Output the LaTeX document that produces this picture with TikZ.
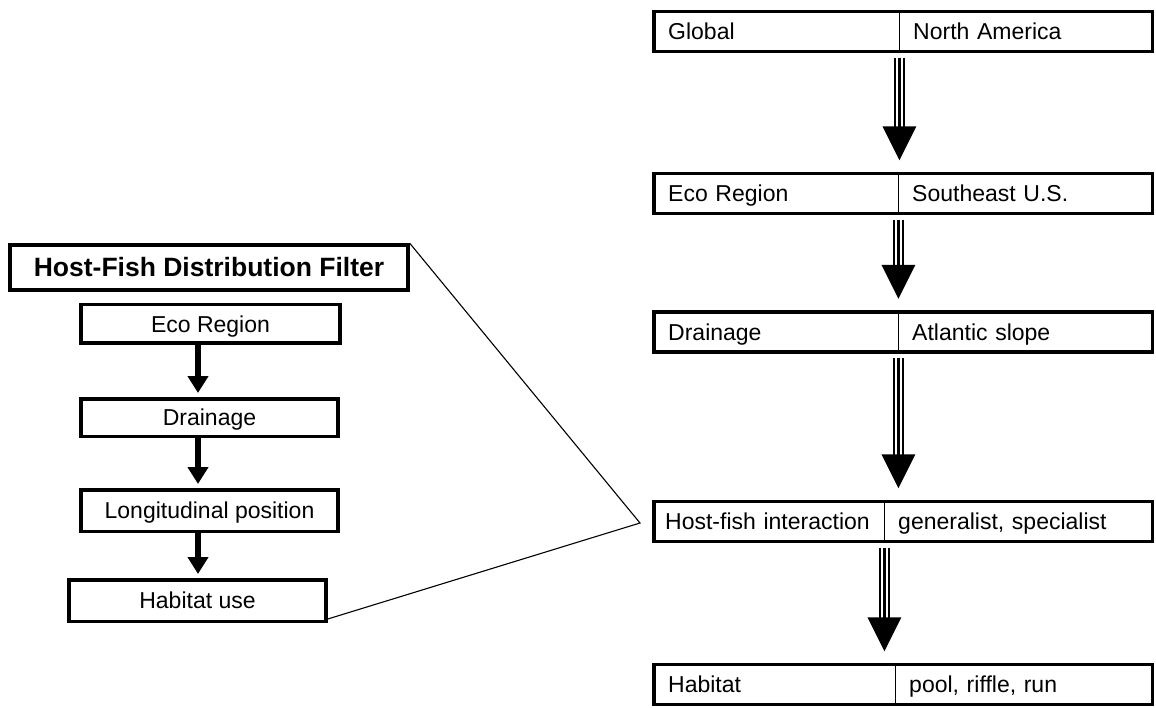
\documentclass[tikz,border=0pt]{standalone}
\usepackage{fontspec}
\setmainfont{Liberation Sans}
\usetikzlibrary{arrows.meta,calc}
\newcommand{\tarrow}[2]{%
  \path (#1.south east) ++(0,6) coordinate (ta);
  \path (#2.north -| #1.south east) ++(0,-13) coordinate (tb);
  \draw[tline] ($(ta)+(-4.6,0)$) -- ($(tb)+(-4.6,-33)$);
  \draw[tline] (ta) -- ($(tb)+(0,-33)$);
  \draw[tline] ($(ta)+(4.6,0)$) -- ($(tb)+(4.6,-33)$);
  \fill ($(tb)+(-17,-34)$) -- ($(tb)+(17,-34)$) -- (tb) -- cycle;
}
\begin{document}
\begin{tikzpicture}[x=1pt,y=-1pt,
  txt/.style={font=\fontsize{23}{27}\selectfont, text height=16.5pt, text depth=0pt},
  cell/.style={txt, anchor=west, minimum height=40pt, inner xsep=14pt, inner ysep=0pt, align=left},
  rowbox/.style={draw, line width=3.5pt},
  divider/.style={line width=1.8pt},
  lbox/.style={draw, line width=3.5pt, txt, inner sep=0pt},
  larrow/.style={line width=6pt, -{Triangle[width=20pt,length=17pt]}, shorten >=4pt},
  tline/.style={line width=2.3pt},
  link/.style={line width=1.1pt}]
\useasboundingbox (0,0) rectangle (1156,708);

% right column
\node[cell, text width=217pt] (r1a) at (654,31.5) {Global};
\node[cell, text width=225pt] (r1b) at (899,31.5) {North America};
\node[cell, text width=216pt] (r2a) at (654,193.5) {Eco Region};
\node[cell, text width=226pt] (r2b) at (898,193.5) {Southeast U.S.};
\node[cell, text width=216pt] (r3a) at (654,332) {Drainage};
\node[cell, text width=226pt] (r3b) at (898,332) {Atlantic slope};
\node[cell, inner xsep=11pt, text width=208pt] (r4a) at (654,521.5) {Host-fish interaction};
\node[cell, text width=240pt] (r4b) at (884,521.5) {generalist, specialist};
\node[cell, text width=213pt] (r5a) at (654,684.5) {Habitat};
\node[cell, text width=229pt] (r5b) at (895,684.5) {pool, riffle, run};

\foreach \r in {r1,r2,r3,r4,r5}{
  \draw[rowbox] (\r a.north west) rectangle (\r b.south east);
  \draw[divider] (\r a.north east) -- (\r a.south east);
}

\tarrow{r1a}{r2a}
\tarrow{r2a}{r3a}
\tarrow{r3a}{r4a}
\tarrow{r4a}{r5a}

% left column
\node[lbox, minimum width=398pt, minimum height=45pt, font=\fontsize{26.5}{30}\selectfont\bfseries, text height=19pt] (title) at (209,267.5) {Host-Fish Distribution Filter};
\node[lbox, minimum width=259pt, minimum height=38.5pt] (eco) at (210.5,324) {Eco Region};
\node[lbox, minimum width=257pt, minimum height=37.5pt] (drain) at (209.5,417.5) {Drainage};
\node[lbox, minimum width=257pt, minimum height=41.5pt] (lon) at (209.5,510.5) {Longitudinal position};
\node[lbox, minimum width=257pt, minimum height=41.5pt] (hab) at (197.5,600.5) {Habitat use};

\coordinate (ax) at (198,0);
\draw[larrow] (eco.south -| ax) -- (drain.north -| ax);
\draw[larrow] (drain.south -| ax) -- (lon.north -| ax);
\draw[larrow] (lon.south -| ax) -- (hab.north -| ax);

\coordinate (apex) at (640,523);
\draw[link] (title.north east) -- (apex) -- ($(hab.south east)+(0,-4)$);
\end{tikzpicture}
\end{document}
